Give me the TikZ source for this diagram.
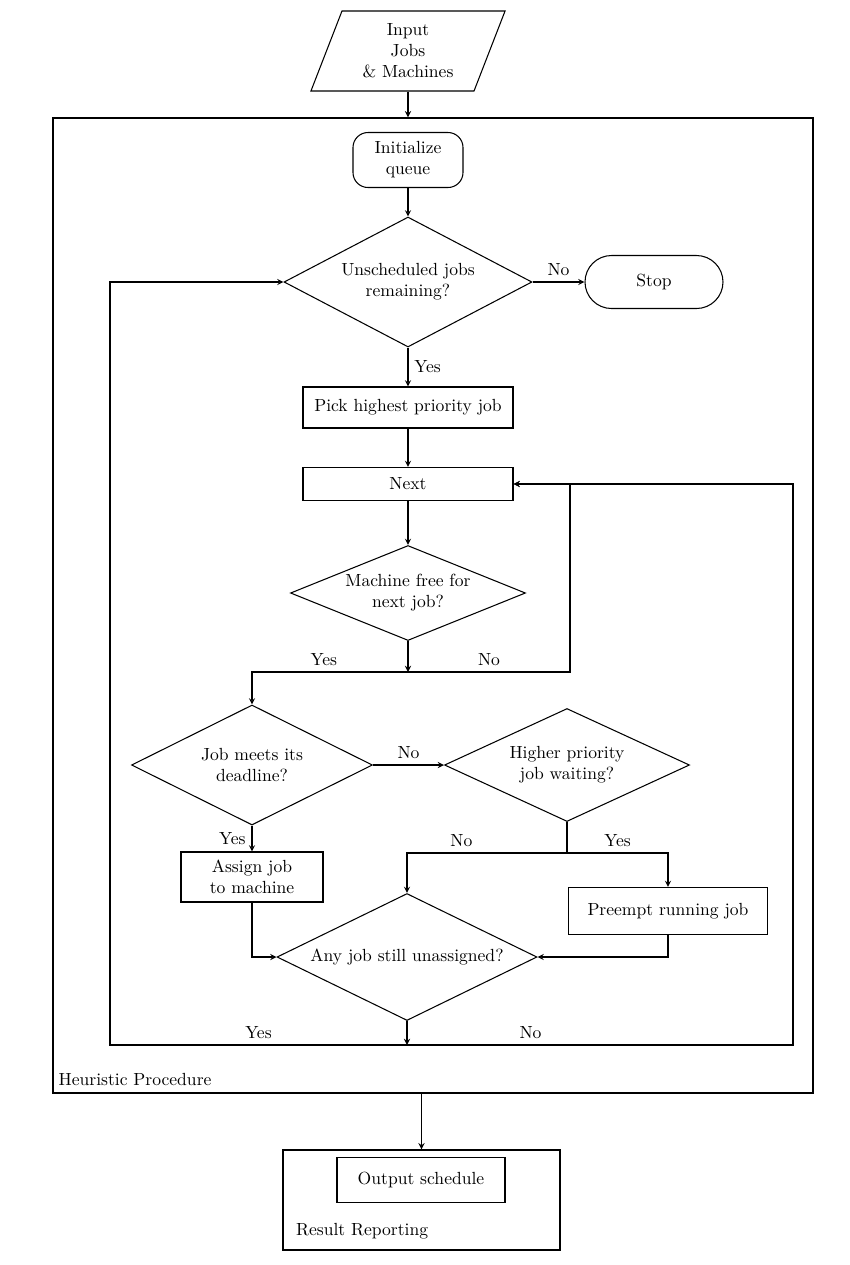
\documentclass[tikz,border=0pt]{standalone}
\usepackage{amsmath, amssymb}
\usetikzlibrary{shapes.geometric, arrows.meta, positioning, calc}
\tikzstyle{arrow} = [semithick, ->, >=stealth]

\begin{document}
\begin{tikzpicture}[
	process/.style={rectangle, draw=black, semithick, fill=white, align=center, minimum width=4.2cm, minimum height=0.7cm},
	decision/.style={diamond, draw=black, semithick, fill=white, inner sep=0pt, align=center, minimum width=4.8cm, minimum height=2.5cm},
	startstop/.style={rectangle, draw=black, semithick, fill=white, align=center, rounded corners=0.5cm, minimum width=2.7cm, minimum height=1.0cm},
	io/.style={trapezium, trapezium left angle=70, trapezium right angle=110, trapezium stretches=true, draw=black, semithick, align=center, minimum width=3.9cm, minimum height=1.6cm},
	container/.style={rectangle, draw=black, thick},
	caption/.style={anchor=south west, inner sep=2pt},
	line/.style={semithick}
]
\useasboundingbox (0,0) rectangle (17,-25.3);

% Containers
\node[container, minimum width=15.2cm, minimum height=19.5cm] (proc) at (8.66,-12.11) {};
\node[caption] (proclabel) at ($(proc.south west)+(0.05,0.08)$) {Heuristic Procedure};
\node[container, minimum width=5.54cm, minimum height=2.0cm] (final) at (8.43,-24.0) {};
\node[caption] (finallabel) at ($(final.south west)+(0.2,0.15)$) {Result Reporting};

% Nodes
\node[io] (in) at (8.16,-1.02) {Input\\ Jobs\\ \& Machines};
\node[startstop, rounded corners=0.3cm, minimum width=2.2cm, minimum height=1.1cm] (init) at (8.16,-3.2) {Initialize\\ queue};
\node[decision, aspect=1.9, minimum width=4.96cm, minimum height=2.6cm] (d1) at (8.16,-5.64) {Unscheduled jobs\\ remaining?};
\node[startstop, minimum width=2.76cm, minimum height=1.06cm, rounded corners=0.53cm] (stop) at (13.08,-5.64) {Stop};
\node[process, minimum height=0.82cm] (sel) at (8.16,-8.15) {Pick highest priority job};
\node[process, minimum height=0.66cm] (next) at (8.16,-9.68) {Next};
\node[decision, aspect=2.47, minimum width=4.7cm, minimum height=1.9cm] (d2) at (8.16,-11.86) {Machine free for\\ next job?};
\node[decision, aspect=2.0, minimum width=4.82cm, minimum height=2.4cm] (d3) at (5.04,-15.3) {Job meets its\\ deadline?};
\node[decision, aspect=2.17, minimum width=4.9cm, minimum height=2.26cm] (d4) at (11.34,-15.3) {Higher priority\\ job waiting?};
\node[process, minimum width=2.84cm, minimum height=1.0cm] (assign) at (5.04,-17.54) {Assign job\\ to machine};
\node[process, minimum width=3.98cm, minimum height=0.94cm] (preempt) at (13.36,-18.22) {Preempt running job};
\node[decision, aspect=2.05, minimum width=5.2cm, minimum height=2.54cm] (d5) at (8.14,-19.14) {Any job still unassigned?};
\node[process, minimum width=3.36cm, minimum height=0.9cm] (out) at (8.42,-23.6) {Output schedule};

% Junctions
\coordinate (j2) at (8.16,-13.44);
\coordinate (nox) at (11.4,-13.44);
\coordinate (j4) at (11.34,-17.06);
\coordinate (j5) at (8.14,-20.9);
\coordinate (lft) at (2.2,-20.9);
\coordinate (rgt) at (15.86,-20.9);

% Main flow
\draw[arrow] (in.south) -- (in.south |- proc.north);
\draw[arrow] (init) -- (d1);
\draw[arrow] (d1.east) -- node[above] {No} (stop.west);
\draw[arrow] (d1.south) -- node[right] {Yes} (sel.north);
\draw[arrow] (sel) -- (next);
\draw[arrow] (next) -- (d2);

% Machine check
\draw[arrow] (d2.south) -- (j2);
\draw[arrow] (j2) -| node[above, pos=0.27] {Yes} (d3.north);
\draw[arrow] (j2) -- node[above] {No} (nox) |- (next.east);

% Deadline and priority
\draw[arrow] (d3.east) -- node[above] {No} (d4.west);
\draw[arrow] (d3.south) -- node[left] {Yes} (assign.north);
\draw[line] (d4.south) -- (j4);
\draw[arrow] (j4) -| node[above, pos=0.25] {Yes} (preempt.north);
\draw[arrow] (j4) -| node[above, pos=0.33] {No} (d5.north);
\draw[arrow] (assign.south) |- (d5.west);
\draw[arrow] (preempt.south) |- (d5.east);

% Loops back
\draw[arrow] (d5.south) -- (j5);
\draw[arrow] (j5) -- node[above] {Yes} (lft) |- (d1.west);
\draw[arrow] (j5) -- node[above, pos=0.32] {No} (rgt) |- (next.east);

% Results
\draw[arrow] (final.north |- proc.south) -- (final.north);

\end{tikzpicture}
\end{document}
